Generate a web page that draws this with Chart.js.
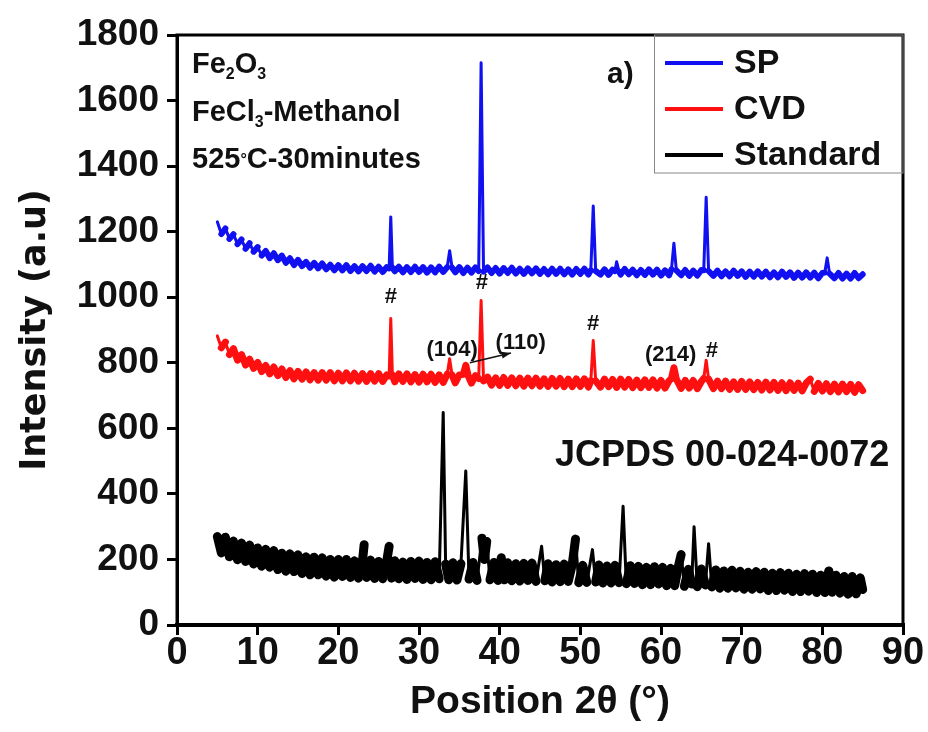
<!DOCTYPE html>
<html>
<head>
<meta charset="utf-8">
<title>XRD Fe2O3</title>
<script src="https://cdn.jsdelivr.net/npm/chart.js@4.4.1/dist/chart.umd.min.js"></script>
<style>
  html, body { margin: 0; padding: 0; background: #fff; }
  #wrap { width: 928px; height: 732px; }
</style>
</head>
<body>
<div id="wrap"><canvas id="xrd" width="928" height="732"></canvas></div>
<script>
// 2θ positions and intensities (noise band typed by hand)
const spTheta = [5, 5.5, 6, 6.5, 7, 7.5, 8, 8.5, 9, 9.5, 10, 10.5, 11, 11.5, 12, 12.5, 13, 13.5, 14, 14.5, 15, 15.5, 16, 16.5, 17, 17.5, 18, 18.5, 19, 19.5, 20, 20.5, 21, 21.5, 22, 22.5, 23, 23.5, 24, 24.5, 25, 25.5, 26, 26.3, 26.5, 26.7, 27, 27.5, 28, 28.5, 29, 29.5, 30, 30.5, 31, 31.5, 32, 32.5, 33, 33.5, 33.8, 34.1, 34.5, 35, 35.5, 36, 36.5, 37, 37.4, 37.7, 38.0, 38.5, 39, 39.5, 40, 40.5, 41, 41.5, 42, 42.5, 43, 43.5, 44, 44.5, 45, 45.5, 46, 46.5, 47, 47.5, 48, 48.5, 49, 49.5, 50, 50.5, 51, 51.3, 51.6, 51.9, 52.5, 53, 53.5, 54, 54.3, 54.5, 54.8, 55, 55.5, 56, 56.5, 57, 57.5, 58, 58.5, 59, 59.5, 60, 60.5, 61, 61.3, 61.6, 61.9, 62.5, 63, 63.5, 64, 64.5, 65, 65.3, 65.6, 65.9, 66.5, 67, 67.5, 68, 68.5, 69, 69.5, 70, 70.5, 71, 71.5, 72, 72.5, 73, 73.5, 74, 74.5, 75, 75.5, 76, 76.5, 77, 77.5, 78, 78.5, 79, 79.5, 80, 80.3, 80.6, 80.9, 81.5, 82, 82.5, 83, 83.5, 84, 84.5, 85];
const spIntensity = [1230, 1193, 1210, 1178, 1192, 1162, 1176, 1148, 1165, 1139, 1153, 1127, 1141, 1119, 1134, 1113, 1127, 1105, 1119, 1098, 1114, 1095, 1108, 1090, 1105, 1088, 1103, 1085, 1099, 1082, 1098, 1082, 1098, 1080, 1095, 1079, 1095, 1080, 1096, 1078, 1093, 1077, 1092, 1088, 1245, 1090, 1079, 1093, 1076, 1092, 1077, 1093, 1077, 1092, 1075, 1091, 1076, 1093, 1077, 1092, 1142, 1090, 1076, 1092, 1074, 1090, 1075, 1091, 1080, 1715, 1078, 1091, 1074, 1089, 1072, 1089, 1074, 1090, 1072, 1087, 1071, 1088, 1073, 1088, 1071, 1086, 1070, 1087, 1071, 1087, 1070, 1085, 1069, 1086, 1071, 1087, 1069, 1082, 1278, 1080, 1069, 1085, 1068, 1084, 1080, 1108, 1078, 1069, 1086, 1070, 1084, 1067, 1083, 1068, 1085, 1069, 1084, 1066, 1082, 1067, 1085, 1165, 1082, 1067, 1083, 1065, 1081, 1066, 1083, 1082, 1305, 1080, 1065, 1081, 1064, 1079, 1064, 1081, 1065, 1079, 1062, 1078, 1063, 1079, 1063, 1078, 1061, 1076, 1061, 1078, 1062, 1076, 1059, 1075, 1060, 1076, 1060, 1075, 1058, 1074, 1075, 1120, 1072, 1058, 1074, 1057, 1072, 1057, 1074, 1058, 1070];

const cvdTheta = [5, 5.5, 6, 6.5, 7, 7.5, 8, 8.5, 9, 9.5, 10, 10.5, 11, 11.5, 12, 12.5, 13, 13.5, 14, 14.5, 15, 15.5, 16, 16.5, 17, 17.5, 18, 18.5, 19, 19.5, 20, 20.5, 21, 21.5, 22, 22.5, 23, 23.5, 24, 24.5, 25, 25.5, 26, 26.3, 26.5, 26.7, 27, 27.5, 28, 28.5, 29, 29.5, 30, 30.5, 31, 31.5, 32, 32.5, 33, 33.5, 33.8, 34.1, 34.5, 35, 35.5, 35.8, 36.1, 36.5, 37, 37.4, 37.7, 38.0, 38.5, 39, 39.5, 40, 40.5, 41, 41.5, 42, 42.5, 43, 43.5, 44, 44.5, 45, 45.5, 46, 46.5, 47, 47.5, 48, 48.5, 49, 49.5, 50, 50.5, 51, 51.3, 51.6, 51.9, 52.5, 53, 53.5, 54, 54.5, 55, 55.5, 56, 56.5, 57, 57.5, 58, 58.5, 59, 59.5, 60, 60.5, 61, 61.3, 61.6, 61.9, 62.5, 63, 63.5, 64, 64.5, 65, 65.3, 65.6, 65.9, 66.5, 67, 67.5, 68, 68.5, 69, 69.5, 70, 70.5, 71, 71.5, 72, 72.5, 73, 73.5, 74, 74.5, 75, 75.5, 76, 76.5, 77, 77.5, 78, 78.5, 79, 79.5, 80, 80.5, 81, 81.5, 82, 82.5, 83, 83.5, 84, 84.5, 85];
const cvdIntensity = [882, 846, 863, 825, 843, 808, 825, 793, 811, 783, 801, 773, 792, 766, 787, 761, 781, 755, 776, 751, 774, 750, 772, 748, 770, 747, 770, 747, 770, 745, 768, 745, 769, 745, 768, 744, 767, 743, 767, 744, 767, 743, 763, 760, 935, 762, 742, 766, 743, 766, 742, 764, 741, 765, 742, 765, 740, 763, 740, 765, 812, 762, 739, 763, 765, 792, 760, 738, 761, 752, 990, 745, 756, 732, 754, 731, 755, 731, 754, 730, 753, 729, 753, 730, 753, 729, 751, 728, 752, 729, 752, 727, 750, 727, 751, 728, 751, 726, 745, 868, 745, 726, 750, 727, 749, 725, 750, 726, 749, 724, 747, 724, 748, 725, 748, 723, 746, 723, 745, 752, 785, 750, 722, 746, 723, 746, 721, 743, 752, 808, 750, 721, 744, 721, 744, 719, 742, 719, 743, 719, 742, 718, 740, 717, 741, 717, 740, 716, 739, 715, 739, 716, 738, 714, 738, 750, 713, 737, 714, 736, 712, 735, 711, 735, 712, 734, 710, 733, 715];

const stdTheta = [5, 5.5, 6, 6.5, 7, 7.5, 8, 8.5, 9, 9.5, 10, 10.5, 11, 11.5, 12, 12.5, 13, 13.5, 14, 14.5, 15, 15.5, 16, 16.5, 17, 17.5, 18, 18.5, 19, 19.5, 20, 20.5, 21, 21.5, 22, 22.5, 23, 23.2, 23.5, 24, 24.5, 25, 25.5, 26, 26.3, 26.6, 27, 27.5, 28, 28.5, 29, 29.5, 30, 30.5, 31, 31.5, 32, 32.5, 33.0, 33.3, 33.7, 34.2, 34.7, 35.2, 35.8, 36.2, 36.7, 37.2, 37.8, 38.1, 38.4, 38.8, 39.3, 39.8, 40.2, 40.6, 41, 41.5, 42, 42.5, 43, 43.5, 44, 44.5, 45.2, 45.6, 46, 46.5, 47, 47.5, 48, 48.5, 49, 49.4, 49.8, 50.3, 50.8, 51.5, 51.9, 52.3, 52.8, 53.3, 53.8, 54.3, 54.8, 55.3, 55.7, 56.2, 56.7, 57.2, 57.7, 58.2, 58.7, 59.2, 59.7, 60.2, 60.7, 61.2, 61.7, 62.1, 62.5, 62.9, 63.4, 63.8, 64.1, 64.5, 65, 65.5, 65.9, 66.3, 66.8, 67.3, 67.8, 68.3, 68.8, 69.3, 69.8, 70.3, 70.8, 71.3, 71.8, 72.3, 72.8, 73.3, 73.8, 74.3, 74.8, 75.3, 75.8, 76.3, 76.8, 77.3, 77.8, 78.3, 78.8, 79.3, 79.8, 80.3, 80.8, 81.2, 81.7, 82.2, 82.7, 83.2, 83.7, 84.2, 84.7, 85];
const stdIntensity = [270, 220, 268, 208, 256, 199, 250, 194, 244, 186, 235, 179, 231, 176, 227, 169, 219, 164, 217, 163, 214, 157, 208, 153, 207, 153, 205, 149, 200, 146, 200, 148, 200, 145, 196, 143, 197, 245, 145, 198, 142, 194, 141, 195, 240, 143, 196, 141, 192, 139, 194, 142, 195, 139, 191, 138, 193, 141, 648, 186, 138, 190, 137, 187, 470, 140, 191, 136, 265, 200, 255, 138, 191, 136, 205, 138, 190, 135, 187, 134, 188, 136, 189, 133, 240, 135, 187, 131, 184, 132, 186, 133, 185, 262, 129, 182, 130, 230, 131, 183, 128, 180, 128, 182, 129, 362, 126, 181, 127, 179, 123, 176, 123, 178, 125, 176, 120, 173, 120, 173, 215, 118, 170, 125, 300, 117, 171, 122, 248, 116, 168, 112, 165, 112, 167, 113, 164, 109, 161, 109, 163, 110, 161, 105, 158, 105, 160, 106, 158, 102, 155, 102, 157, 103, 155, 99, 152, 99, 165, 100, 152, 97, 148, 94, 148, 95, 144, 108];

const seriesNames = ['SP', 'CVD', 'Standard'];
const xTicks = [0, 10, 20, 30, 40, 50, 60, 70, 80, 90];
const yTicks = [0, 200, 400, 600, 800, 1000, 1200, 1400, 1600, 1800];

const BOLD = '"Liberation Sans", Arial, sans-serif';

function pairs(xs, ys) {
  return xs.map((x, i) => ({ x: x, y: ys[i] }));
}

// bruit = trait épais, pics = trait fin
function peakWidth(limit, thick, thin) {
  return c => Math.abs(c.p1.parsed.y - c.p0.parsed.y) > limit ? thin : thick;
}

// texte avec indices (Fe2O3, FeCl3)
function drawRich(ctx, parts, x, y, size) {
  parts.forEach(p => {
    let s = size, dy = 0;
    if (p.sub) { s = size * 0.55; dy = size * 0.2; }
    if (p.deg) { s = size * 0.55; dy = -size * 0.12; }
    ctx.font = 'bold ' + s + 'px ' + BOLD;
    ctx.fillText(p.t, x, y + dy);
    x += ctx.measureText(p.t).width;
  });
}

const overlay = {
  id: 'overlay',
  afterDraw(chart) {
    const { ctx, chartArea: a, scales: { x, y } } = chart;
    ctx.save();

    // cadre
    ctx.strokeStyle = '#000';
    ctx.lineWidth = 3;
    ctx.strokeRect(a.left, a.top, a.right - a.left, a.bottom - a.top);

    // infos échantillon
    ctx.fillStyle = '#111';
    ctx.textAlign = 'left';
    ctx.textBaseline = 'alphabetic';
    drawRich(ctx, [{ t: 'Fe' }, { t: '2', sub: true }, { t: 'O' }, { t: '3', sub: true }], 192, 73, 29);
    drawRich(ctx, [{ t: 'FeCl' }, { t: '3', sub: true }, { t: '-Methanol' }], 192, 121, 29);
    drawRich(ctx, [{ t: '525' }, { t: '°', deg: true }, { t: 'C-30minutes' }], 192, 168, 29);

    ctx.font = 'bold 30px ' + BOLD;
    ctx.fillText('a)', 607, 83);

    // légende
    ctx.strokeStyle = '#888';
    ctx.lineWidth = 1;
    ctx.strokeRect(654.5, a.top, a.right - 654.5, 138);
    ctx.font = 'bold 34px ' + BOLD;
    ctx.textBaseline = 'middle';
    chart.data.datasets.forEach((ds, i) => {
      const ly = 63 + i * 46;
      ctx.strokeStyle = ds.borderColor;
      ctx.lineWidth = 4;
      ctx.beginPath();
      ctx.moveTo(665, ly);
      ctx.lineTo(723, ly);
      ctx.stroke();
      ctx.fillStyle = '#111';
      ctx.fillText(ds.label, 734, ly + 1);
    });

    ctx.font = 'bold 36px ' + BOLD;
    ctx.fillText('JCPDS 00-024-0072', 555, 456);

    // indexation des pics
    ctx.textAlign = 'center';
    ctx.font = 'bold 22px ' + BOLD;
    const marks = [
      ['#', 26.5, 1000], ['#', 37.8, 1045], ['#', 51.6, 918], ['#', 66.3, 836],
      ['(104)', 34.1, 840], ['(110)', 42.6, 862], ['(214)', 61.2, 824]
    ];
    marks.forEach(m => ctx.fillText(m[0], x.getPixelForValue(m[1]), y.getPixelForValue(m[2])));

    // flèche (110)
    const x0 = x.getPixelForValue(36.3), y0 = y.getPixelForValue(800);
    const x1 = x.getPixelForValue(41.4), y1 = y.getPixelForValue(830);
    ctx.strokeStyle = '#111';
    ctx.fillStyle = '#111';
    ctx.lineWidth = 1.5;
    ctx.beginPath();
    ctx.moveTo(x0, y0);
    ctx.lineTo(x1, y1);
    ctx.stroke();
    const ang = Math.atan2(y1 - y0, x1 - x0);
    ctx.beginPath();
    ctx.moveTo(x1, y1);
    ctx.lineTo(x1 - 10 * Math.cos(ang - 0.35), y1 - 10 * Math.sin(ang - 0.35));
    ctx.lineTo(x1 - 10 * Math.cos(ang + 0.35), y1 - 10 * Math.sin(ang + 0.35));
    ctx.closePath();
    ctx.fill();

    ctx.restore();
  }
};

const ctx = document.getElementById('xrd').getContext('2d');
new Chart(ctx, {
  type: 'line',
  data: {
    datasets: [
      { label: seriesNames[0], data: pairs(spTheta, spIntensity), borderColor: '#1010f0', borderWidth: 6, segment: { borderWidth: peakWidth(25, 6, 3) } },
      { label: seriesNames[1], data: pairs(cvdTheta, cvdIntensity), borderColor: '#ff1010', borderWidth: 7, segment: { borderWidth: peakWidth(35, 7, 3) } },
      { label: seriesNames[2], data: pairs(stdTheta, stdIntensity), borderColor: '#000000', borderWidth: 9, segment: { borderWidth: peakWidth(90, 9, 3) } }
    ]
  },
  options: {
    responsive: false,
    animation: false,
    devicePixelRatio: 1,
    elements: {
      point: { radius: 0 },
      line: { tension: 0, borderJoinStyle: 'round', borderCapStyle: 'round' }
    },
    layout: { padding: { top: 35, right: 25, left: 0, bottom: 0 } },
    plugins: { legend: { display: false }, tooltip: { enabled: false } },
    scales: {
      x: {
        type: 'linear',
        min: 0,
        max: 90,
        afterBuildTicks: s => { s.ticks = xTicks.map(v => ({ value: v })); },
        afterFit: s => { s.height = 107; },
        border: { display: true, color: '#000', width: 4 },
        grid: { drawOnChartArea: false, drawTicks: true, tickLength: 10, color: '#000', lineWidth: 3 },
        ticks: { color: '#111', padding: 0, maxRotation: 0, callback: v => String(v), font: { family: BOLD, weight: 'bold', size: 38, lineHeight: 1 } },
        title: { display: true, text: 'Position 2θ (°)', color: '#111', padding: { top: 0, bottom: 6 }, font: { family: BOLD, weight: 'bold', size: 39 } }
      },
      y: {
        type: 'linear',
        min: 0,
        max: 1800,
        afterBuildTicks: s => { s.ticks = yTicks.map(v => ({ value: v })); },
        afterFit: s => { s.width = 177; },
        border: { display: true, color: '#000', width: 3 },
        grid: { drawOnChartArea: false, drawTicks: true, tickLength: 10, color: '#000', lineWidth: 3 },
        ticks: { color: '#111', padding: 8, callback: v => String(v), font: { family: BOLD, weight: 'bold', size: 37 } },
        title: { display: true, text: 'Intensity (a.u)', color: '#111', padding: { top: 15, bottom: 0 }, font: { family: '"DejaVu Sans", sans-serif', weight: 'bold', size: 35 } }
      }
    }
  },
  plugins: [overlay]
});
</script>
</body>
</html>
